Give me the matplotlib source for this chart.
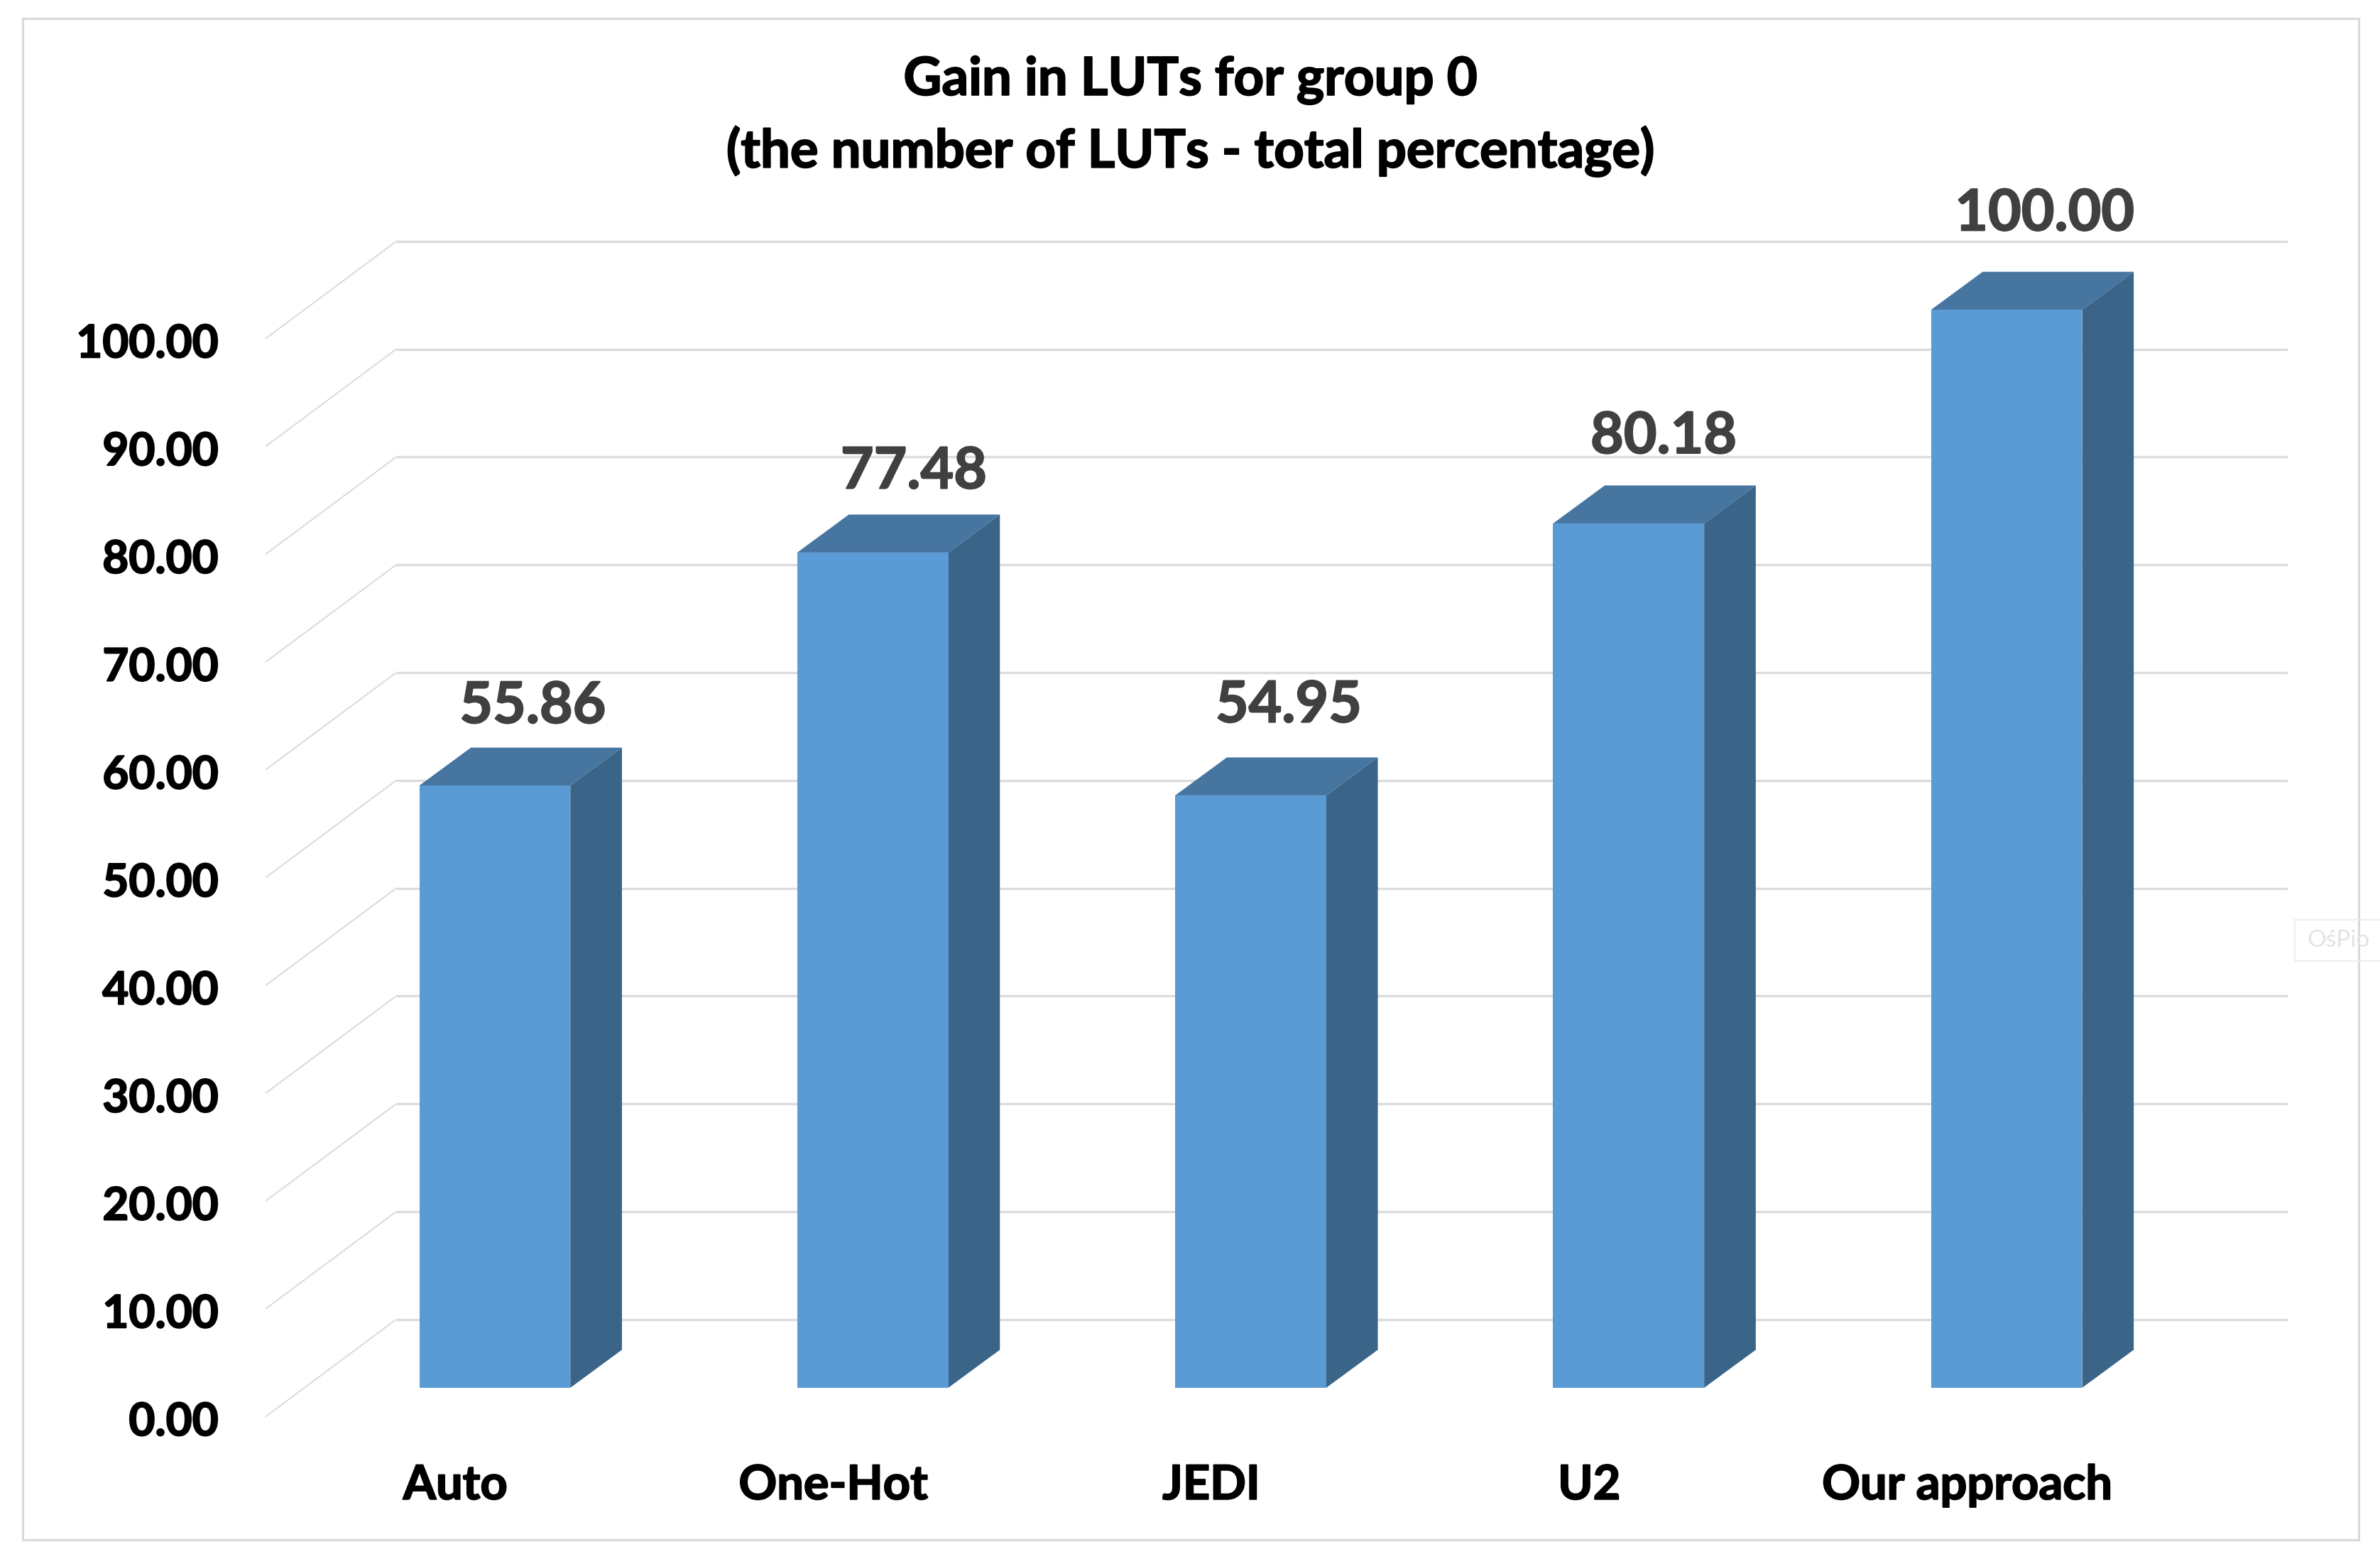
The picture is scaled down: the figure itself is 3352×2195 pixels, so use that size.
import numpy as np
import matplotlib
matplotlib.use("Agg")
import matplotlib.pyplot as plt
import matplotlib.patheffects as pe
from matplotlib.patches import Rectangle

categories = ["Auto", "One-Hot", "JEDI", "U2", "Our approach"]
values = [55.86, 77.48, 54.95, 80.18, 100.00]
y_ticks = [0, 10, 20, 30, 40, 50, 60, 70, 80, 90, 100]
value_labels = ["55.86", "77.48", "54.95", "80.18", "100.00"]
title_lines = ["Gain in LUTs for group 0", "(the number of LUTs - total percentage)"]

W, H = 3352, 2195
S = W / 1568.0          # reference measurements were taken on the 1568-wide view
FONT = ["Lato", "DejaVu Sans"]
FRONT, SIDE, TOP = "#5B9BD5", "#3A6488", "#4675A0"
GRID = "#DCDCDC"


def thicken(color, width=1.4):
    return [pe.withStroke(linewidth=width, foreground=color)]


fig = plt.figure(figsize=(W / 100, H / 100), dpi=100, facecolor="white")

# plot box in reference view pixels
L, R, T, B = 175, 1507, 158, 936
ax = fig.add_axes([L * S / W, 1 - B * S / H, (R - L) * S / W, (B - T) * S / H])
xlim = ((L - 326) / 249, (R - 326) / 249)
ylim = ((914 - B) / 7.10, (914 - T) / 7.10)
ax.set_xlim(*xlim)
ax.set_ylim(*ylim)
ax.patch.set_visible(False)
for s in ax.spines.values():
    s.set_visible(False)

# depth of the pseudo-3D box, in data units
wall_dx = 86 / 249
wall_front = (914 - 933) / 7.10
wall_back = (914 - 869) / 7.10
bar_dx = 34 / 249
bar_dy = 25 / 7.10
bar_w = 99.5 / 249
x0, x1 = xlim

for v in y_ticks:
    ax.plot([x0, x0 + wall_dx], [v + wall_front, v + wall_back], color=GRID, lw=1.5,
            solid_capstyle="butt", zorder=1)
    ax.plot([x0 + wall_dx, x1], [v + wall_back, v + wall_back], color=GRID, lw=2.4,
            solid_capstyle="butt", zorder=1)

xs = np.arange(len(categories))
ax.bar(xs, values, width=bar_w, color=FRONT, zorder=3)
for x, v in zip(xs, values):
    r = x + bar_w / 2
    l = x - bar_w / 2
    ax.fill([r, r + bar_dx, r + bar_dx, r], [0, bar_dy, v + bar_dy, v], color=SIDE, lw=0, zorder=2)
    ax.fill([l, r, r + bar_dx, l + bar_dx], [v, v, v + bar_dy, v + bar_dy], color=TOP, lw=0, zorder=2)

label_dx = [25, 27, 25, 23, 25]
label_dy = [52, 53, 59, 57, 63]
for x, v, t, dx, dy in zip(xs, values, value_labels, label_dx, label_dy):
    ax.annotate(t, (x, v), xytext=(dx * S * 0.72, dy * S * 0.72), textcoords="offset points",
                ha="center", va="center", family=FONT, weight="bold", fontsize=58, color="#404040",
                zorder=5, path_effects=thicken("#404040"))

ax.set_yticks(np.array(y_ticks) + wall_front - 0.2, [f"{v:.2f}" for v in y_ticks])
ax.set_xticks(xs - 26 / 249, categories)
ax.set_xlim(*xlim)
ax.set_ylim(*ylim)
ax.tick_params(axis="y", length=0, pad=(175 - 144) * S * 0.72, labelsize=46, labelcolor="black")
ax.tick_params(axis="x", length=0, pad=(961 - 933) * S * 0.72, labelsize=48, labelcolor="black")
for lab in ax.get_xticklabels() + ax.get_yticklabels():
    lab.set_family(FONT)
    lab.set_weight("bold")
    lab.set_path_effects(thicken("black"))

fig.text(784 * S / W, 1 - 53 * S / H, title_lines[0], ha="center", va="center",
         family=FONT, weight="bold", fontsize=53.5, color="black", path_effects=thicken("black"))
fig.text(784 * S / W, 1 - 100 * S / H, title_lines[1], ha="center", va="center",
         family=FONT, weight="bold", fontsize=53.5, color="black", path_effects=thicken("black"))

# outer chart frame
fig.add_artist(Rectangle((15 * S / W, 1 - 1014 * S / H), 1539 * S / W, 1002 * S / H,
                         transform=fig.transFigure, fill=False, ec="#D9D9D9", lw=2.2))

# faint clipped watermark box at the right edge
fig.add_artist(Rectangle((1512 * S / W, 1 - 633 * S / H), 60 * S / W, 27 * S / H,
                         transform=fig.transFigure, fill=False, ec="#EDEDED", lw=1.5))
fig.text(1520 * S / W, 1 - 619.5 * S / H, "OśPio", ha="left", va="center",
         family=FONT, fontsize=24, color="#E3E3E3")

fig.savefig("out.png", dpi=100)
